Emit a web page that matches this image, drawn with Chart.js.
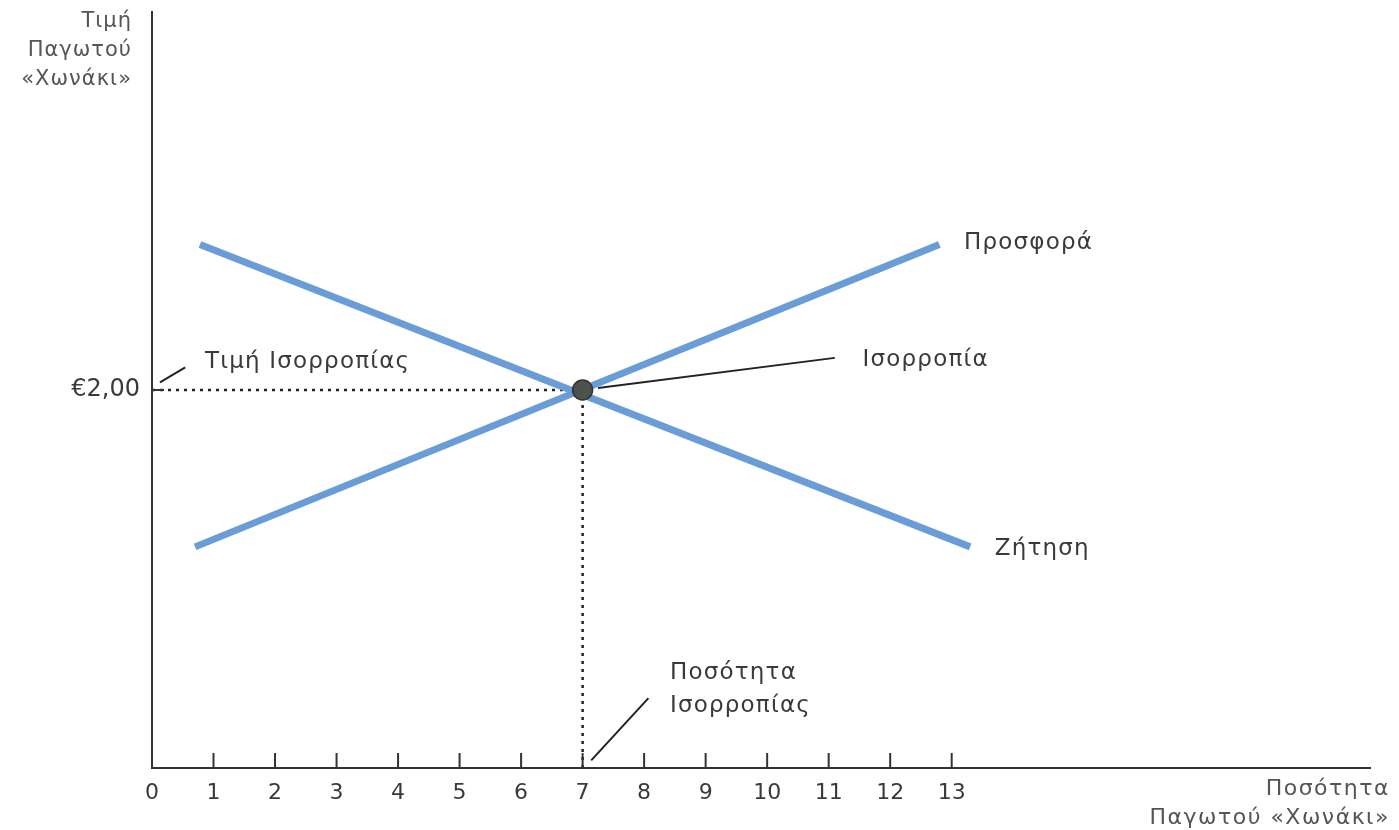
<!DOCTYPE html>
<html>
<head>
<meta charset="utf-8">
<script src="https://cdn.jsdelivr.net/npm/chart.js@4.4.0/dist/chart.umd.min.js"></script>
<style>
  html, body { margin: 0; padding: 0; background: #fff; }
  #wrap { width: 1399px; height: 830px; }
</style>
</head>
<body>
<div id="wrap"><canvas id="chart"></canvas></div>
<script>
// values
const xTickLabels = ['0', '1', '2', '3', '4', '5', '6', '7', '8', '9', '10', '11', '12', '13'];
const demand = [{ x: 0.78, y: 2.77 }, { x: 13.3, y: 1.17 }];
const supply = [{ x: 0.7, y: 1.17 }, { x: 12.8, y: 2.77 }];
const equilibrium = [{ x: 7, y: 2 }];
const priceGuide = [{ x: 0, y: 2 }, { x: 7, y: 2 }];
const qtyGuide = [{ x: 7, y: 0 }, { x: 7, y: 2 }];
const priceLabel = '€2,00';

const blue = 'rgb(106,156,216)';
const textColor = '#3a3a3a';
const font = '"DejaVu Sans", "Noto Sans", sans-serif';

// notes: text + leader line, in data units
const notes = [
  { text: ['Προσφορά'], at: [13.2, 2.78] },
  { text: ['Ζήτηση'], at: [13.7, 1.16] },
  { text: ['Ισορροπία'], at: [11.55, 2.16], line: [[7.25, 2.01], [11.1, 2.17]] },
  { text: ['Τιμή Ισορροπίας'], at: [0.86, 2.15], line: [[0.13, 2.04], [0.54, 2.12]] },
  { text: ['Ποσότητα', 'Ισορροπίας'], at: [8.42, 0.505], line: [[7.14, 0.04], [8.07, 0.37]] }
];

const drawExtras = {
  id: 'drawExtras',
  afterDatasetsDraw(chart) {
    const { ctx, scales } = chart;
    const x = scales.x, y = scales.y;
    ctx.save();

    // inside tick marks on the x axis
    ctx.strokeStyle = '#333';
    ctx.lineWidth = 2;
    xTickLabels.forEach((l, i) => {
      if (i === 0) return;
      const px = x.getPixelForValue(i);
      ctx.beginPath();
      ctx.moveTo(px, y.bottom);
      ctx.lineTo(px, y.bottom - 15);
      ctx.stroke();
    });
    // small tick at the price
    const py = y.getPixelForValue(2);
    ctx.beginPath();
    ctx.moveTo(x.left, py);
    ctx.lineTo(x.left + 12, py);
    ctx.stroke();

    ctx.fillStyle = textColor;
    ctx.font = '23px ' + font;
    ctx.letterSpacing = '1.2px';
    ctx.textBaseline = 'middle';
    ctx.textAlign = 'left';
    notes.forEach(n => {
      const tx = x.getPixelForValue(n.at[0]);
      const ty = y.getPixelForValue(n.at[1]);
      n.text.forEach((t, i) => ctx.fillText(t, tx, ty + i * 33));
      if (n.line) {
        ctx.strokeStyle = '#222';
        ctx.lineWidth = 2;
        ctx.beginPath();
        ctx.moveTo(x.getPixelForValue(n.line[0][0]), y.getPixelForValue(n.line[0][1]));
        ctx.lineTo(x.getPixelForValue(n.line[1][0]), y.getPixelForValue(n.line[1][1]));
        ctx.stroke();
      }
    });

    // axis titles
    ctx.fillStyle = '#555';
    ctx.textAlign = 'right';
    ctx.font = '21px ' + font;
    ctx.letterSpacing = '1px';
    ['Τιμή', 'Παγωτού', '«Χωνάκι»'].forEach((t, i) => ctx.fillText(t, 132, 22 + i * 29));
    ctx.font = '22px ' + font;
    ctx.letterSpacing = '1.5px';
    ['Ποσότητα', 'Παγωτού «Χωνάκι»'].forEach((t, i) => ctx.fillText(t, 1390, 789 + i * 29));
    ctx.restore();
  }
};

new Chart(document.getElementById('chart'), {
  type: 'scatter',
  data: {
    datasets: [
      { data: priceGuide, showLine: true, borderColor: '#222', borderWidth: 2.5, borderDash: [3, 5], pointRadius: 0, order: 3 },
      { data: qtyGuide, showLine: true, borderColor: '#222', borderWidth: 2.5, borderDash: [3, 5], pointRadius: 0, order: 3 },
      { label: 'Ζήτηση', data: demand, showLine: true, borderColor: blue, borderWidth: 7, pointRadius: 0, order: 2 },
      { label: 'Προσφορά', data: supply, showLine: true, borderColor: blue, borderWidth: 7, pointRadius: 0, order: 2 },
      { label: 'Ισορροπία', data: equilibrium, pointRadius: 10, pointBackgroundColor: '#4d524f', pointBorderColor: '#333', pointBorderWidth: 1.5, order: 1 }
    ]
  },
  options: {
    responsive: true,
    maintainAspectRatio: false,
    animation: false,
    layout: { padding: { top: 12, right: 29, left: 0, bottom: 0 } },
    plugins: { legend: { display: false }, tooltip: { enabled: false } },
    scales: {
      x: {
        type: 'linear',
        min: 0,
        max: 19.8,
        afterFit: s => { s.height = 62; },
        afterBuildTicks: s => { s.ticks = xTickLabels.map((l, i) => ({ value: i })); },
        grid: { display: false, drawTicks: false },
        border: { color: '#333', width: 2 },
        ticks: {
          padding: 12,
          autoSkip: false,
          maxRotation: 0,
          color: textColor,
          font: { family: font, size: 22 },
          callback: (v) => xTickLabels[v] ?? ''
        }
      },
      y: {
        type: 'linear',
        min: 0,
        max: 4,
        afterFit: s => { s.width = 152; s.paddingTop = 0; s.paddingBottom = 0; },
        afterBuildTicks: s => { s.ticks = [{ value: 2 }]; },
        grid: { display: false, drawTicks: false },
        border: { color: '#333', width: 2 },
        ticks: {
          padding: 12,
          color: textColor,
          font: { family: font, size: 24 },
          callback: () => priceLabel
        }
      }
    }
  },
  plugins: [drawExtras]
});
</script>
</body>
</html>
